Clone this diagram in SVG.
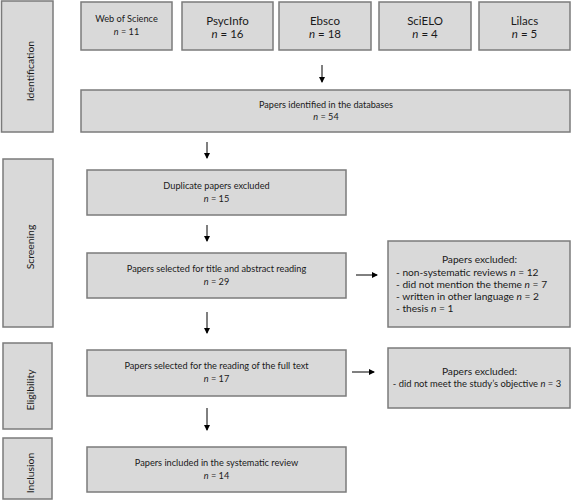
<svg xmlns="http://www.w3.org/2000/svg" width="571" height="500" viewBox="0 0 571 500">
<defs>
<marker id="ah" markerWidth="6" markerHeight="6" refX="5" refY="3" orient="auto" markerUnits="userSpaceOnUse">
<path d="M0,0 L6,3 L0,6 Z" fill="#000"/>
</marker>
</defs>
<style>
.box{fill:#d9d9d9;stroke:#7b7b7b;stroke-width:1.5}
text{font-family:Lato,"Liberation Sans",sans-serif;fill:#1a1a1a}
.t{font-size:9.1px;text-anchor:middle}
.s{font-size:9.2px;text-anchor:middle}
.b{font-size:11.5px;text-anchor:middle}
.l{font-size:10.2px}
.lc{font-size:10.2px;text-anchor:middle}
.ls{font-size:9.4px;text-anchor:middle}
.st{font-size:10.4px;text-anchor:middle}
.c line{stroke:#000;stroke-width:1;marker-end:url(#ah)}
</style>
<rect width="571" height="500" fill="#fff"/>

<g id="stage-identification"><rect class="box" x="1.5" y="1" width="51.5" height="131"/><text class="st" transform="translate(34,71) rotate(-90)">Identification</text></g>
<g id="stage-screening"><rect class="box" x="3" y="159" width="50" height="168"/><text class="st" transform="translate(34,247) rotate(-90)">Screening</text></g>
<g id="stage-eligibility"><rect class="box" x="3" y="343" width="49" height="86"/><text class="st" transform="translate(34,390) rotate(-90)">Eligibility</text></g>
<g id="stage-inclusion"><rect class="box" x="3" y="438" width="49" height="61"/><text class="st" transform="translate(34,473) rotate(-90)">Inclusion</text></g>

<g id="db-wos"><rect class="box" x="81" y="2" width="91" height="48"/><text class="s" x="126.5" y="22">Web of Science</text><text class="t" x="126.5" y="35"><tspan font-style="italic">n</tspan> = 11</text></g>
<g id="db-psycinfo"><rect class="box" x="182" y="2" width="91" height="48"/><text class="b" x="227.5" y="25">PsycInfo</text><text class="b" x="227.5" y="37.5"><tspan font-style="italic">n</tspan> = 16</text></g>
<g id="db-ebsco"><rect class="box" x="279" y="2" width="92" height="48"/><text class="b" x="325" y="25">Ebsco</text><text class="b" x="325" y="37.5"><tspan font-style="italic">n</tspan> = 18</text></g>
<g id="db-scielo"><rect class="box" x="379" y="2" width="92" height="48"/><text class="b" x="425" y="25">SciELO</text><text class="b" x="425" y="37.5"><tspan font-style="italic">n</tspan> = 4</text></g>
<g id="db-lilacs"><rect class="box" x="479" y="2" width="91" height="48"/><text class="b" x="524.5" y="25">Lilacs</text><text class="b" x="524.5" y="37.5"><tspan font-style="italic">n</tspan> = 5</text></g>

<g id="identified"><rect class="box" x="81" y="90" width="489" height="42"/><text class="t" x="326" y="108">Papers identified in the databases</text><text class="t" x="326" y="120"><tspan font-style="italic">n</tspan> = 54</text></g>
<g id="duplicates"><rect class="box" x="87" y="170" width="259" height="45"/><text class="s" x="216.5" y="189">Duplicate papers excluded</text><text class="s" x="216.5" y="202"><tspan font-style="italic">n</tspan> = 15</text></g>
<g id="title-abstract"><rect class="box" x="87" y="253" width="259" height="45"/><text class="s" x="216.5" y="272">Papers selected for title and abstract reading</text><text class="s" x="216.5" y="285"><tspan font-style="italic">n</tspan> = 29</text></g>
<g id="excluded-1"><rect class="box" x="388" y="241" width="182" height="86"/><text class="lc" x="479.5" y="263">Papers excluded:</text><text class="l" x="396" y="276">- non-systematic reviews <tspan font-style="italic">n</tspan> = 12</text><text class="l" x="396" y="288">- did not mention the theme <tspan font-style="italic">n</tspan> = 7</text><text class="l" x="396" y="300">- written in other language <tspan font-style="italic">n</tspan> = 2</text><text class="l" x="396" y="312">- thesis <tspan font-style="italic">n</tspan> = 1</text></g>
<g id="full-text"><rect class="box" x="87" y="350" width="259" height="46"/><text class="s" x="216.5" y="369">Papers selected for the reading of the full text</text><text class="s" x="216.5" y="382"><tspan font-style="italic">n</tspan> = 17</text></g>
<g id="excluded-2"><rect class="box" x="388" y="348" width="182" height="60"/><text class="lc" x="479.5" y="375">Papers excluded:</text><text class="ls" x="477" y="387">- did not meet the study’s objective <tspan font-style="italic">n</tspan> = 3</text></g>
<g id="included"><rect class="box" x="87" y="447" width="259" height="45"/><text class="s" x="216.5" y="466">Papers included in the systematic review</text><text class="s" x="216.5" y="479"><tspan font-style="italic">n</tspan> = 14</text></g>

<g id="connectors" class="c">
<line x1="322" y1="65" x2="322" y2="82"/>
<line x1="207" y1="142" x2="207" y2="158"/>
<line x1="207" y1="225" x2="207" y2="241"/>
<line x1="207" y1="312" x2="207" y2="333"/>
<line x1="356" y1="275" x2="377" y2="275"/>
<line x1="207" y1="408" x2="207" y2="430"/>
<line x1="352" y1="372" x2="374" y2="372"/>
</g>
</svg>
